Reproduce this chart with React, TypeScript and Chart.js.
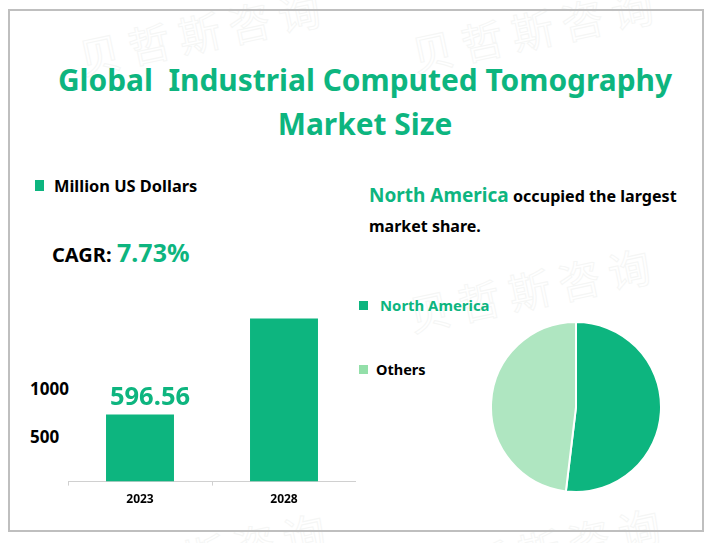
import React, { useEffect, useRef } from 'react';
import { Chart, registerables } from 'chart.js';

Chart.register(...registerables);

const years = ['2023', '2028'];
const marketSize = [596.56, 1451];
const regions = ['North America', 'Others'];
const regionShare = [51.9, 48.1];
const axisLabels = ['1000', '500'];
const watermark = '贝哲斯咨询';

const FONT = '"Noto Sans", sans-serif';
const GREEN = '#0db57f';
const LIGHT = '#afe6c1';

const text = (left: number, top: number, size: number, color = '#000'): React.CSSProperties => ({
  position: 'absolute',
  left,
  top,
  fontSize: size,
  lineHeight: '1',
  fontWeight: 700,
  color,
  whiteSpace: 'nowrap',
});

const mark = (left: number, top: number): React.CSSProperties => ({
  position: 'absolute',
  left,
  top,
  fontFamily: '"Noto Sans CJK SC", sans-serif',
  fontSize: 42,
  lineHeight: '1',
  letterSpacing: 9,
  color: 'transparent',
  WebkitTextStroke: '1px #f5f6f5',
  whiteSpace: 'nowrap',
  transform: 'rotate(-12deg)',
  transformOrigin: 'left bottom',
});

// draws 596.56 above the first bar only, sits a bit right of the bar centre in the original
const barLabel = {
  id: 'barLabel',
  afterDatasetsDraw(chart: any) {
    const bar = chart.getDatasetMeta(0).data[0];
    const c = chart.ctx;
    c.save();
    c.font = `bold 25.5px ${FONT}`;
    c.fillStyle = GREEN;
    c.textAlign = 'center';
    c.textBaseline = 'bottom';
    c.fillText(String(marketSize[0]), bar.x + 10, bar.y - 4);
    c.restore();
  },
};

export default function App() {
  const barRef = useRef<HTMLCanvasElement | null>(null);
  const pieRef = useRef<HTMLCanvasElement | null>(null);

  useEffect(() => {
    if (!barRef.current || !pieRef.current) return;
    document.body.style.margin = '0';

    const bar = new Chart(barRef.current, {
      type: 'bar',
      data: {
        labels: years,
        datasets: [{ data: marketSize, backgroundColor: GREEN, barPercentage: 0.472, categoryPercentage: 1 }],
      },
      options: {
        animation: false,
        responsive: false,
        layout: { padding: { left: 2 } },
        plugins: { legend: { display: false }, tooltip: { enabled: false } },
        scales: {
          y: { display: false, min: 0, max: 1669 },
          x: {
            grid: { drawOnChartArea: false, drawTicks: true, tickLength: 4, tickColor: '#d0d0d0' },
            border: { color: '#d0d0d0' },
            ticks: { color: '#000', font: { family: FONT, size: 12, weight: 'bold' }, padding: 7 },
          },
        },
      },
      plugins: [barLabel],
    });

    const pie = new Chart(pieRef.current, {
      type: 'pie',
      data: {
        labels: regions,
        datasets: [{ data: regionShare, backgroundColor: [GREEN, LIGHT], borderColor: '#fff', borderWidth: 2 }],
      },
      options: {
        animation: false,
        responsive: false,
        layout: { padding: 0 },
        plugins: { legend: { display: false }, tooltip: { enabled: false } },
      },
    });

    return () => {
      bar.destroy();
      pie.destroy();
    };
  }, []);

  return (
    <div style={{ position: 'relative', width: 713, height: 543, overflow: 'hidden', fontFamily: FONT, background: '#fff' }}>
      <div style={mark(83, 36)}>{watermark}</div>
      <div style={mark(416, 33)}>{watermark}</div>
      <div style={mark(413, 293)}>{watermark}</div>
      <div style={mark(88, 558)}>{watermark}</div>
      <div style={mark(423, 553)}>{watermark}</div>

      <div style={{ position: 'absolute', left: 8, top: 9, width: 692, height: 519, border: '2px solid #bfbfbf' }} />

      <div style={{ position: 'absolute', left: 19, width: 692, top: 58, textAlign: 'center', fontSize: 29.9, lineHeight: '44px', fontWeight: 700, color: GREEN, whiteSpace: 'pre-wrap' }}>
        {'Global  Industrial Computed Tomography\nMarket Size'}
      </div>

      <div style={{ position: 'absolute', left: 35, top: 180, width: 9, height: 11, background: GREEN }} />
      <div style={text(54, 178, 16.4)}>Million US Dollars</div>

      <div style={text(52, 245, 20)}>CAGR:</div>
      <div style={text(117, 240, 25, GREEN)}>7.73%</div>

      <div style={text(30, 380, 17)}>{axisLabels[0]}</div>
      <div style={text(30, 428, 17)}>{axisLabels[1]}</div>

      <div style={text(369, 186, 19, GREEN)}>{regions[0]}</div>
      <div style={text(513, 188, 16.1)}>occupied the largest</div>
      <div style={text(369, 218, 16)}>market share.</div>

      <div style={{ position: 'absolute', left: 359, top: 301, width: 9, height: 9, background: GREEN }} />
      <div style={text(380, 298, 14.9, GREEN)}>{regions[0]}</div>
      <div style={{ position: 'absolute', left: 359, top: 365, width: 9, height: 9, background: '#93dfa9' }} />
      <div style={text(376, 362, 14.5)}>{regions[1]}</div>

      <canvas ref={barRef} width={290} height={220} style={{ position: 'absolute', left: 66, top: 294 }} />
      <canvas ref={pieRef} width={172} height={172} style={{ position: 'absolute', left: 490, top: 321 }} />
    </div>
  );
}
